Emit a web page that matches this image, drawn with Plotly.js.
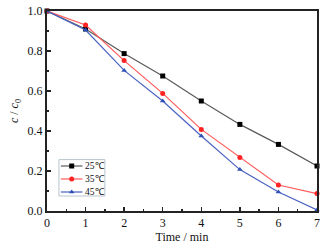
<!DOCTYPE html>
<html><head><meta charset="utf-8">
<script src="https://cdn.plot.ly/plotly-3.0.1.min.js"></script>
<style>html,body{margin:0;padding:0;background:#fff}</style>
</head><body><div id="chart" style="width:328px;height:246px"></div>
<script>
const time = [0,1,2,3,4,5,6,7];
const c25 = [1.0,0.91,0.787,0.675,0.55,0.433,0.333,0.225];
const c35 = [1.0,0.93,0.752,0.588,0.408,0.267,0.13,0.087];
const c45 = [1.0,0.905,0.703,0.55,0.375,0.207,0.095,0.005];
const names = ['25℃','35℃','45℃'];
const font = '"Liberation Serif", "Times New Roman", serif';
const styles = [
  {lc:'#5a5a5a', mc:'#000', sym:'square'},
  {lc:'#ff5a5a', mc:'#f22', sym:'circle'},
  {lc:'#4a62c0', mc:'#2f50b8', sym:'triangle-up'}
];
const series = [c25,c35,c45];
const data = series.map((y,i)=>({x:time,y:y,name:names[i],type:'scatter',mode:'lines+markers',cliponaxis:false,showlegend:false,
  line:{color:styles[i].lc,width:1.2},marker:{color:styles[i].mc,symbol:styles[i].sym,size:5}}));
// custom compact legend (samples drawn on the main axes)
const legX0=0.31, legX1=1.50, legYTop=0.257, legYBot=0.075, legStep=0.065, legFirst=0.225;
const annotations=[];
names.forEach((n,i)=>{
  const yy = legFirst - i*legStep;
  data.push({x:[0.36,0.92],y:[yy,yy],type:'scatter',mode:'lines',showlegend:false,hoverinfo:'skip',cliponaxis:false,
    line:{color:styles[i].lc,width:1.2}});
  data.push({x:[0.64],y:[yy],type:'scatter',mode:'markers',showlegend:false,hoverinfo:'skip',cliponaxis:false,
    marker:{color:styles[i].mc,symbol:styles[i].sym,size:5}});
  annotations.push({x:0.93,y:yy,xref:'x',yref:'y',text:n,showarrow:false,xanchor:'left',yanchor:'middle',
    font:{family:font,size:9.5,color:'#111'}});
});
const ax = {showgrid:false,zeroline:false,showline:true,linecolor:'#222',linewidth:2,mirror:true,ticks:'inside',ticklen:4,tickwidth:1.5,tickcolor:'#222',
  tickfont:{family:font,size:12,color:'#111'}};
const layout={width:328,height:246,margin:{l:47,r:11,t:11,b:35},paper_bgcolor:'#fff',plot_bgcolor:'#fff',
  xaxis:Object.assign({},ax,{range:[0,7],dtick:1,minor:{ticks:'inside',ticklen:2,dtick:0.5,tickcolor:'#222'},
    title:{text:'Time / min',font:{family:font,size:12,color:'#111'},standoff:2}}),
  yaxis:Object.assign({},ax,{range:[0,1],dtick:0.2,tickformat:'.1f',minor:{ticks:'inside',ticklen:2,dtick:0.1,tickcolor:'#222'},
    title:{text:'<i>c</i> / <i>c</i><sub>0</sub>',font:{family:font,size:12,color:'#111'},standoff:6}}),
  shapes:[{type:'rect',xref:'x',yref:'y',x0:legX0,x1:legX1,y0:legYBot,y1:legYTop,line:{color:'#b8c4cc',width:1},fillcolor:'rgba(255,255,255,0)',layer:'below'}],
  annotations:annotations,
  showlegend:false};
Plotly.newPlot('chart',data,layout,{displayModeBar:false,staticPlot:true});
</script></body></html>
